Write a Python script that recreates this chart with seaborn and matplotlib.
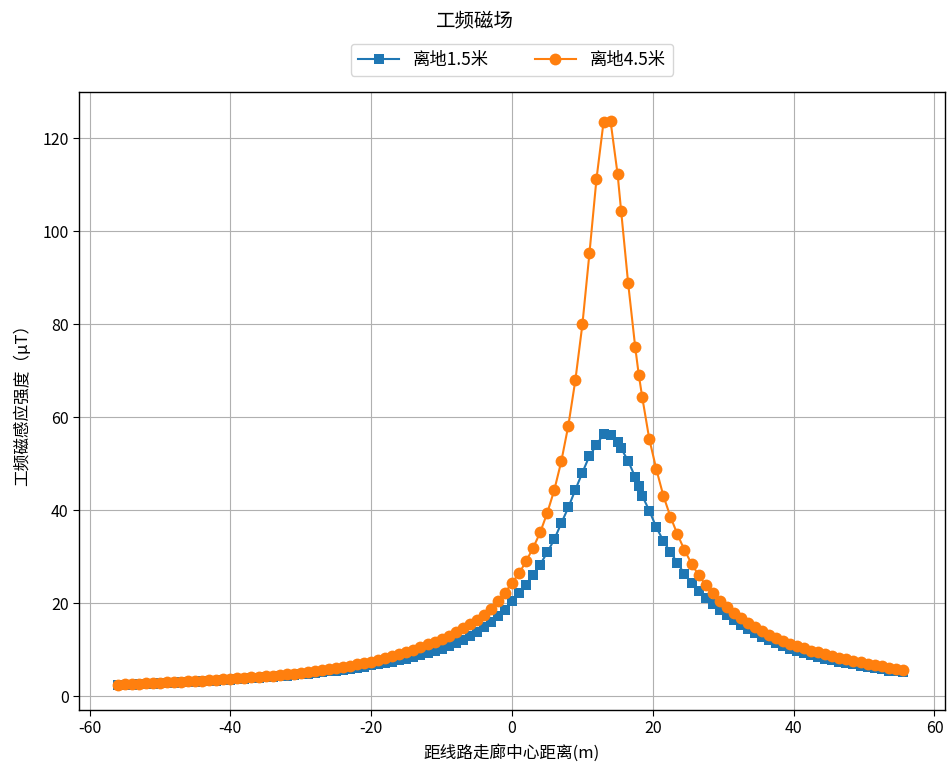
import matplotlib
matplotlib.use("Agg")
import matplotlib.pyplot as plt
import seaborn as sns
import pandas as pd

# distance from corridor centre (m)
x_left = [-56, -55, -54, -53, -52, -51, -50, -49, -48, -47, -46, -45, -44, -43, -42, -41,
          -40, -39, -38, -37, -36, -35, -34, -33, -32, -31, -30, -29, -28, -27, -26, -25,
          -24, -23, -22, -21, -20, -19, -18, -17, -16, -15, -14, -13, -12, -11, -10, -9,
          -8, -7, -6, -5, -4, -3, -2, -1, 0, 1, 2, 3, 4, 5, 6, 7, 8, 9, 10, 11, 12, 13, 14, 15]
x_mid = [15.5, 16.5, 17.5, 18, 18.5]
x_right = [19.5, 20.5, 21.5, 22.5, 23.5, 24.5, 25.5, 26.5, 27.5, 28.5, 29.5, 30.5, 31.5,
           32.5, 33.5, 34.5, 35.5, 36.5, 37.5, 38.5, 39.5, 40.5, 41.5, 42.5, 43.5, 44.5,
           45.5, 46.5, 47.5, 48.5, 49.5, 50.5, 51.5, 52.5, 53.5, 54.5, 55.5]
distance = x_left + x_mid + x_right

# 离地1.5米 (μT)
b15 = [2.35, 2.41, 2.47, 2.53, 2.59, 2.65, 2.72, 2.79, 2.86, 2.93, 3.0, 3.08, 3.16, 3.24,
       3.32, 3.41, 3.5, 3.6, 3.7, 3.8, 3.91, 4.02, 4.13, 4.25, 4.37, 4.5, 4.65, 4.8, 4.95,
       5.1, 5.3, 5.5, 5.7, 5.9, 6.1, 6.35, 6.6, 6.85, 7.1, 7.4, 7.7, 8.0, 8.4, 8.8, 9.2,
       9.7, 10.2, 10.8, 11.4, 12.1, 12.9, 13.8, 14.8, 15.9, 17.2, 18.6, 20.4, 22.2, 24.0,
       26.0, 28.3, 30.9, 33.7, 37.2, 40.6, 44.4, 48.1, 51.7, 54.0, 56.4, 56.2, 54.6,
       53.3, 50.6, 47.1, 45.1, 43.1,
       39.9, 36.3, 33.4, 30.9, 28.7, 26.2, 24.4, 22.7, 21.2, 19.8, 18.6, 17.4, 16.3, 15.3,
       14.4, 13.6, 12.8, 12.1, 11.4, 10.8, 10.2, 9.7, 9.2, 8.8, 8.4, 8.0, 7.7, 7.4, 7.1,
       6.8, 6.5, 6.2, 6.0, 5.8, 5.5, 5.3, 5.1]

# 离地4.5米 (μT)
b45 = [2.48, 2.54, 2.6, 2.66, 2.72, 2.79, 2.86, 2.93, 3.0, 3.08, 3.16, 3.24, 3.32, 3.4,
       3.5, 3.6, 3.7, 3.8, 3.9, 4.0, 4.1, 4.25, 4.4, 4.55, 4.7, 4.85, 5.0, 5.2, 5.4, 5.6,
       5.8, 6.0, 6.2, 6.5, 6.8, 7.1, 7.4, 7.8, 8.2, 8.6, 9.0, 9.5, 10.0, 10.5, 11.1, 11.7,
       12.3, 13.0, 13.8, 14.6, 15.5, 16.4, 17.5, 18.8, 20.4, 22.2, 24.4, 26.4, 29.0, 31.9,
       35.2, 39.4, 44.3, 50.5, 58.2, 68.0, 80.0, 95.3, 111.3, 123.5, 123.7, 112.3,
       104.4, 88.8, 75.1, 69.2, 64.3,
       55.3, 48.8, 43.1, 38.6, 34.8, 31.4, 28.5, 26.0, 23.9, 22.1, 20.5, 19.1, 17.8, 16.7,
       15.7, 14.8, 14.0, 13.2, 12.5, 11.9, 11.3, 10.8, 10.3, 9.8, 9.4, 9.0, 8.6, 8.25,
       7.9, 7.6, 7.3, 7.0, 6.7, 6.4, 6.1, 5.85, 5.6]

series_names = ["离地1.5米", "离地4.5米"]
title = "工频磁场"
xlabel = "距线路走廊中心距离(m)"
ylabel = "工频磁感应强度（μT）"

df15 = pd.DataFrame({"x": distance, "y": b15})
df45 = pd.DataFrame({"x": distance, "y": b45})

plt.rcParams["font.family"] = ["Noto Sans CJK SC", "DejaVu Sans"]
plt.rcParams["axes.unicode_minus"] = False

fig = plt.figure(figsize=(9.49, 7.66), dpi=100)
ax = fig.add_axes([79 / 949, 1 - 710 / 766, (945 - 79) / 949, (710 - 92) / 766])

sns.lineplot(data=df15, x="x", y="y", ax=ax, color="#1f77b4", marker="s",
             markersize=7.5, markeredgewidth=0, linewidth=1.5, label=series_names[0],
             sort=False)
sns.lineplot(data=df45, x="x", y="y", ax=ax, color="#ff7f0e", marker="o",
             markersize=8.5, markeredgewidth=0, linewidth=1.5, label=series_names[1],
             sort=False)

ax.set_xlim(-61.5, 61.5)
ax.set_ylim(-3, 130)
ax.set_xticks([-60, -40, -20, 0, 20, 40, 60])
ax.set_yticks([0, 20, 40, 60, 80, 100, 120])
ax.grid(True, color="#b0b0b0", linewidth=0.8)
ax.set_axisbelow(True)
for s in ax.spines.values():
    s.set_color("black")
    s.set_linewidth(1.0)
ax.tick_params(labelsize=11.5, colors="black", length=4)
ax.set_xlabel(xlabel, fontsize=12, labelpad=5)
ax.set_ylabel(ylabel, fontsize=12, labelpad=8)

leg = ax.legend(loc="lower center", bbox_to_anchor=(0.5, 1.012), ncol=2, fontsize=12.5,
                frameon=True, columnspacing=2.6, handlelength=2.4)
leg.get_frame().set_edgecolor("#cccccc")
fig.text(0.5, 1 - 21 / 766, title, ha="center", va="center", fontsize=14)

fig.savefig("out.png", dpi=100)
